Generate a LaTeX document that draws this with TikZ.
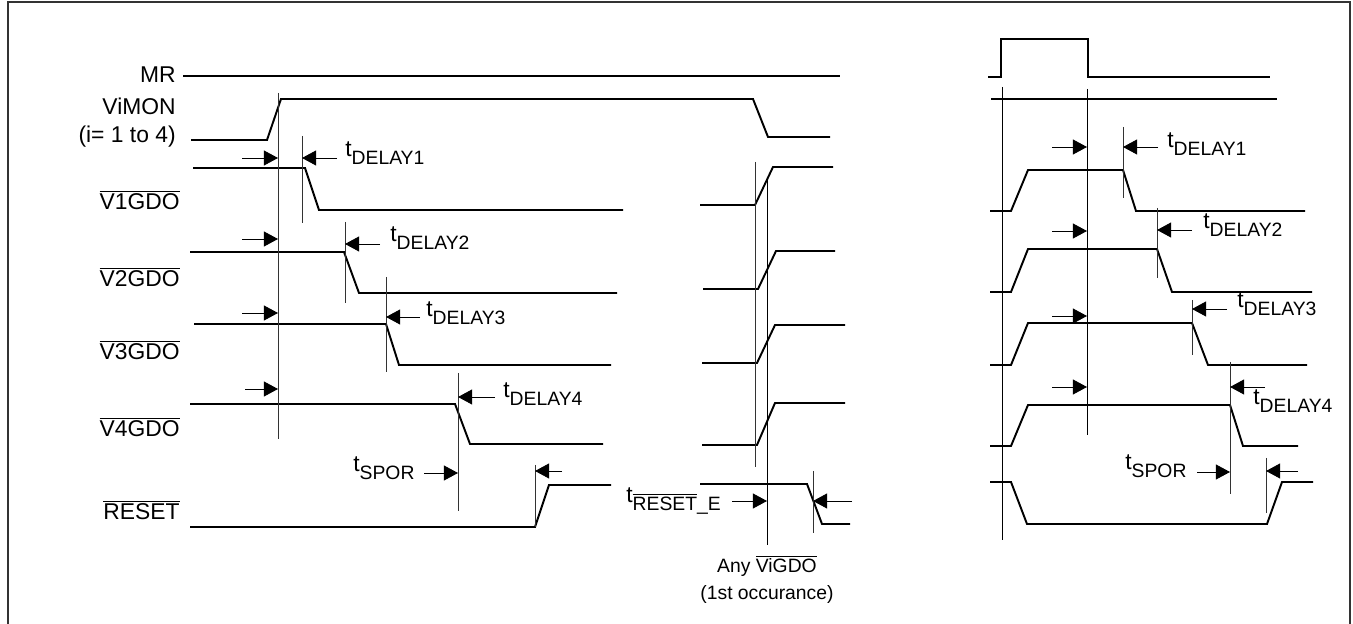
\documentclass[tikz,border=0pt]{standalone}
\usepackage{fontspec}
\setmainfont{Liberation Sans}
\usetikzlibrary{arrows.meta}
\newcommand{\subfont}{\fontsize{11}{11}\selectfont}
\newcommand{\tsub}[1]{t\raisebox{-4pt}{\subfont #1}}
\newcommand{\barred}[1]{$\overline{\mbox{#1}}$}
\tikzstyle{wave}=[line width=1.1pt, line join=miter]
\tikzstyle{marker}=[line width=0.5pt, black!80]
\tikzstyle{myarrow}=[-{Triangle[length=8pt,width=8.5pt]}, line width=0.5pt]
\tikzstyle{signal}=[anchor=base east, inner sep=0pt, font=\fontsize{13}{15}\selectfont]
\tikzstyle{timing}=[anchor=base west, inner sep=0pt, font=\fontsize{13}{15}\selectfont]
\tikzstyle{note}=[anchor=base, inner sep=0pt, font=\fontsize{11}{13}\selectfont]

\begin{document}
\begin{tikzpicture}[x=0.02cm, y=-0.02cm]
\useasboundingbox (0,0) rectangle (1353,624);
\draw[line width=0.6pt, black!80] (8,2) rectangle (1350,627);

% signal names
\node (LabelMR) [signal] at (176,83) {MR};
\node (LabelViMON) [signal] at (176,115) {ViMON};
\node (LabelRange) [signal] at (176,143) {(i= 1 to 4)};
\node (LabelV1) [signal] at (180,210) {\barred{V1GDO}};
\node (LabelV2) [signal] at (180,287) {\barred{V2GDO}};
\node (LabelV3) [signal] at (180,360) {\barred{V3GDO}};
\node (LabelV4) [signal] at (180,437) {\barred{V4GDO}};
\node (LabelReset) [signal] at (180,520) {\barred{RESET}};

% left: power up
\draw[wave] (183,76) -- (840,76);
\draw[wave] (191,140) -- (267,140) -- (281,99) -- (753,99) -- (768,137) -- (830,137);
\draw[wave] (193,168) -- (305,168) -- (319,210) -- (623,210);
\draw[wave] (190,252) -- (344,252) -- (359,293) -- (617,293);
\draw[wave] (194,324) -- (386,324) -- (399,365) -- (611,365);
\draw[wave] (190,404) -- (455,404) -- (470,444) -- (603,444);
\draw[wave] (190,527) -- (535,527) -- (549,485) -- (611,485);

\draw[marker] (278,93) -- (278,439);
\draw[marker] (302,136) -- (302,223);
\draw[marker] (345,222) -- (345,303);
\draw[marker] (386,277) -- (386,372);
\draw[marker] (458,373) -- (458,511);
\draw[marker] (535,465) -- (535,527);

\draw[myarrow] (242,158) -- (278,158);
\draw[myarrow] (337,158) -- (302,158);
\draw[myarrow] (242,239) -- (278,239);
\draw[myarrow] (380,244) -- (345,244);
\draw[myarrow] (242,313) -- (278,313);
\draw[myarrow] (420,317) -- (386,317);
\draw[myarrow] (245,389) -- (278,389);
\draw[myarrow] (495,397) -- (458,397);
\draw[myarrow] (424,473) -- (458,473);
\draw[myarrow] (562,471) -- (535,471);

\node (DelayA) [timing] at (345,157) {\tsub{DELAY1}};
\node (DelayB) [timing] at (390,242) {\tsub{DELAY2}};
\node (DelayC) [timing] at (426,317) {\tsub{DELAY3}};
\node (DelayD) [timing] at (503,398) {\tsub{DELAY4}};
\node (SporA) [timing] at (353,472) {\tsub{SPOR}};

% middle: any output going low
\draw[wave] (700,205) -- (755,205) -- (773,167) -- (833,167);
\draw[wave] (703,289) -- (758,289) -- (776,251) -- (835,251);
\draw[wave] (702,363) -- (757,363) -- (775,325) -- (845,325);
\draw[wave] (702,445) -- (757,445) -- (775,403) -- (845,403);
\draw[wave] (700,484) -- (807,484) -- (822,524) -- (850,524);

\draw[marker] (755,162) -- (755,467);
\draw[marker, black] (767,180) -- (767,545);
\draw[marker] (813,471) -- (813,533);
\draw[myarrow] (732,501) -- (767,501);
\draw[myarrow] (852,501) -- (813,501);

\node (ResetE) [timing] at (626,503) {t\raisebox{-4pt}{\subfont\barred{RESET}\_E}};
\node (AnyOut) [note] at (767,573) {Any \barred{ViGDO}};
\node (FirstOcc) [note] at (767,600) {(1st occurance)};

% right: manual reset
\draw[wave] (988,77) -- (1001,77) -- (1001,39) -- (1088,39) -- (1088,77) -- (1270,77);
\draw[wave] (991,99) -- (1277,99);
\draw[wave] (990,211) -- (1011,211) -- (1028,170) -- (1123,170) -- (1136,211) -- (1305,211);
\draw[wave] (990,292) -- (1011,292) -- (1028,249) -- (1157,249) -- (1172,292) -- (1312,292);
\draw[wave] (990,365) -- (1011,365) -- (1028,323) -- (1192,323) -- (1208,365) -- (1307,365);
\draw[wave] (990,446) -- (1011,446) -- (1028,405) -- (1230,405) -- (1243,446) -- (1298,446);
\draw[wave] (990,482) -- (1011,482) -- (1027,524) -- (1267,524) -- (1282,482) -- (1313,482);

\draw[marker, black] (1002,87) -- (1002,540);
\draw[marker, black] (1087,89) -- (1087,435);
\draw[marker] (1123,127) -- (1123,198);
\draw[marker] (1157,208) -- (1157,278);
\draw[marker] (1192,300) -- (1192,355);
\draw[marker] (1230,362) -- (1230,494);
\draw[marker] (1266,458) -- (1266,513);

\foreach \y in {147,231,316,387}
  \draw[myarrow] (1052,\y) -- (1087,\y);
\draw[myarrow] (1158,147) -- (1123,147);
\draw[myarrow] (1192,230) -- (1157,230);
\draw[myarrow] (1227,309) -- (1192,309);
\draw[myarrow] (1265,387) -- (1230,387);
\draw[myarrow] (1197,472) -- (1230,472);
\draw[myarrow] (1298,471) -- (1266,471);

\node (DelayE) [timing] at (1167,148) {\tsub{DELAY1}};
\node (DelayF) [timing] at (1203,229) {\tsub{DELAY2}};
\node (DelayG) [timing] at (1237,308) {\tsub{DELAY3}};
\node (DelayH) [timing] at (1253,405) {\tsub{DELAY4}};
\node (SporB) [timing] at (1125,470) {\tsub{SPOR}};
\end{tikzpicture}
\end{document}
